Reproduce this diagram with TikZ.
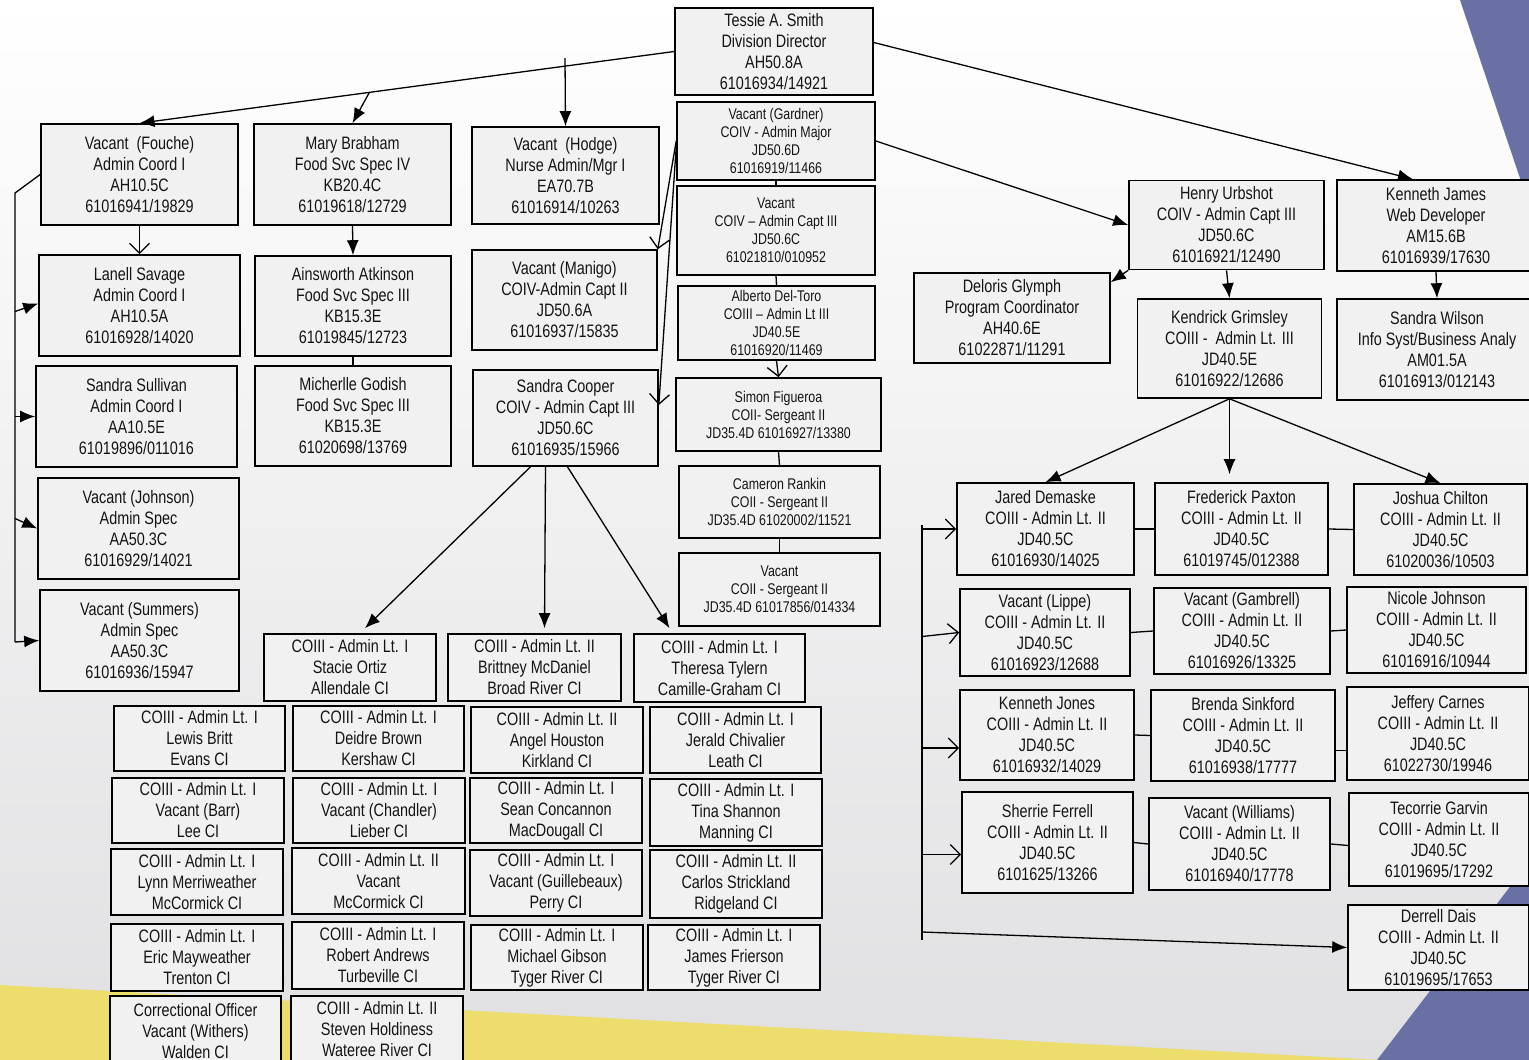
\documentclass[tikz,border=0pt]{standalone}
\usepackage{fontspec}
\setmainfont{Liberation Sans}[FakeStretch=0.8]
\usetikzlibrary{arrows.meta,calc}
\definecolor{boxgray}{RGB}{241,241,241}
\definecolor{bggray}{RGB}{224,224,226}
\definecolor{bandyellow}{RGB}{236,221,108}
\definecolor{bandblue}{RGB}{104,112,164}

\begin{document}
\begin{tikzpicture}[x=1pt,y=-1pt,>={Latex[length=15pt,width=12pt]},
  org/.style 2 args={draw,line width=1.6pt,fill=boxgray,text=black!92,
    minimum width=#1,minimum height=#2,inner sep=0pt,align=center,
    font=\fontsize{18}{21}\selectfont},
  small/.style={font=\fontsize{15.5}{18}\selectfont},
  link/.style={line width=1.3pt},
  openarrow/.style={-{Straight Barb[length=10pt,width=20pt,line width=1.3pt]}}]
\useasboundingbox (0,0) rectangle (1529,1060);
%background
\shade[top color=white,bottom color=bggray] (0,0) rectangle (1529,1060);
\fill[bandyellow] (0,985) -- (1380,1060) -- (0,1060) -- cycle;
\fill[bandblue] (1460,0) -- (1529,0) -- (1529,205) -- cycle;
\fill[bandblue] (1529,862) -- (1377,1060) -- (1529,1060) -- cycle;

%director and major
\node[org={198}{87}] (tessie) at (774,51.5)
  {Tessie A. Smith\\Division Director\\AH50.8A\\61016934/14921};
\node[org={198}{78},small] (gardner) at (776,141)
  {Vacant (Gardner)\\COIV - Admin Major\\JD50.6D\\61016919/11466};
\node[org={198}{89},small] (capt) at (776,230.5)
  {Vacant\\COIV – Admin Capt III\\JD50.6C\\61021810/010952};
\node[org={197}{74},small] (deltoro) at (776.5,323)
  {Alberto Del-Toro\\COIII – Admin Lt III\\JD40.5E\\61016920/11469};
\node[org={205}{73},small] (figueroa) at (778.5,414.5)
  {Simon Figueroa\\COII- Sergeant II\\JD35.4D 61016927/13380};
\node[org={201}{72},small] (rankin) at (779.5,502)
  {Cameron Rankin\\COII - Sergeant II\\JD35.4D 61020002/11521};
\node[org={201}{73},small] (vacsgt) at (779.5,589.5)
  {Vacant\\COII - Sergeant II\\JD35.4D 61017856/014334};

%admin column
\node[org={197}{101}] (fouche) at (139.5,174.5)
  {Vacant\ \ (Fouche)\\Admin Coord I\\AH10.5C\\61016941/19829};
\node[org={201}{101}] (savage) at (139.5,305.5)
  {Lanell Savage\\Admin Coord I\\AH10.5A\\61016928/14020};
\node[org={201}{101}] (sullivan) at (136.5,416.5)
  {Sandra Sullivan\\Admin Coord I\\AA10.5E\\61019896/011016};
\node[org={201}{101}] (johnson) at (138.5,528.5)
  {Vacant (Johnson)\\Admin Spec\\AA50.3C\\61016929/14021};
\node[org={199}{101}] (summers) at (139.5,640.5)
  {Vacant (Summers)\\Admin Spec\\AA50.3C\\61016936/15947};

%food service
\node[org={197}{101}] (brabham) at (352.5,174.5)
  {Mary Brabham\\Food Svc Spec IV\\KB20.4C\\61019618/12729};
\node[org={196}{100}] (atkinson) at (353,306)
  {Ainsworth Atkinson\\Food Svc Spec III\\KB15.3E\\61019845/12723};
\node[org={196}{100}] (godish) at (353,416)
  {Micherlle Godish\\Food Svc Spec III\\KB15.3E\\61020698/13769};

%nurse and captains
\node[org={187}{97}] (hodge) at (565.5,175.5)
  {Vacant\ \ (Hodge)\\Nurse Admin/Mgr I\\EA70.7B\\61016914/10263};
\node[org={185}{100}] (manigo) at (564.5,300)
  {Vacant (Manigo)\\COIV-Admin Capt II\\JD50.6A\\61016937/15835};
\node[org={185}{96}] (cooper) at (565.5,418)
  {Sandra Cooper\\COIV - Admin Capt III\\JD50.6C\\61016935/15966};

%institutions
\node[org={172}{67}] (ortiz) at (350,667.5)
  {COIII - Admin Lt. I\\Stacie Ortiz\\Allendale CI};
\node[org={173}{67}] (mcdaniel) at (534.5,667.5)
  {COIII - Admin Lt. II\\Brittney McDaniel\\Broad River CI};
\node[org={171}{68}] (tylern) at (719.5,668)
  {COIII - Admin Lt. I\\Theresa Tylern\\Camille-Graham CI};
\node[org={171}{65}] (britt) at (199.5,738.5)
  {COIII - Admin Lt. I\\Lewis Britt\\Evans CI};
\node[org={171}{65}] (brown) at (378.5,738.5)
  {COIII - Admin Lt. I\\Deidre Brown\\Kershaw CI};
\node[org={172}{66}] (houston) at (557,740)
  {COIII - Admin Lt. II\\Angel Houston\\Kirkland CI};
\node[org={171}{66}] (chivalier) at (735.5,740)
  {COIII - Admin Lt. I\\Jerald Chivalier\\Leath CI};
\node[org={172}{65}] (barr) at (198,810.5)
  {COIII - Admin Lt. I\\Vacant (Barr)\\Lee CI};
\node[org={172}{65}] (chandler) at (379,810.5)
  {COIII - Admin Lt. I\\Vacant (Chandler)\\Lieber CI};
\node[org={172}{65}] (concannon) at (556,810.5)
  {COIII - Admin Lt. I\\Sean Concannon\\MacDougall CI};
\node[org={172}{67}] (shannon) at (736,812.5)
  {COIII - Admin Lt. I\\Tina Shannon\\Manning CI};
\node[org={172}{66}] (merriweather) at (197,882)
  {COIII - Admin Lt. I\\Lynn Merriweather\\McCormick CI};
\node[org={173}{66}] (mccormick) at (378.5,881)
  {COIII - Admin Lt. II\\Vacant\\McCormick CI};
\node[org={172}{66}] (guillebeaux) at (556,883)
  {COIII - Admin Lt. I\\Vacant (Guillebeaux)\\Perry CI};
\node[org={172}{68}] (strickland) at (736,884)
  {COIII - Admin Lt. II\\Carlos Strickland\\Ridgeland CI};
\node[org={172}{67}] (mayweather) at (197,957.5)
  {COIII - Admin Lt. I\\Eric Mayweather\\Trenton CI};
\node[org={172}{67}] (andrews) at (378,955.5)
  {COIII - Admin Lt. I\\Robert Andrews\\Turbeville CI};
\node[org={172}{65}] (gibson) at (557,957.5)
  {COIII - Admin Lt. I\\Michael Gibson\\Tyger River CI};
\node[org={172}{65}] (frierson) at (734,957.5)
  {COIII - Admin Lt. I\\James Frierson\\Tyger River CI};
\node[org={171}{70}] (withers) at (195.5,1031)
  {Correctional Officer\\Vacant (Withers)\\Walden CI};
\node[org={172}{66}] (holdiness) at (377,1029)
  {COIII - Admin Lt. II\\Steven Holdiness\\Wateree River CI};

%right side
\node[org={195}{89}] (urbshot) at (1226.5,225)
  {Henry Urbshot\\COIV - Admin Capt III\\JD50.6C\\61016921/12490};
\node[org={198}{91}] (kjames) at (1436,225.5)
  {Kenneth James\\Web Developer\\AM15.6B\\61016939/17630};
\node[org={196}{90}] (glymph) at (1012,318)
  {Deloris Glymph\\Program Coordinator\\AH40.6E\\61022871/11291};
\node[org={184}{99}] (grimsley) at (1229.5,348.5)
  {Kendrick Grimsley\\COIII -\ \ Admin Lt. III\\JD40.5E\\61016922/12686};
\node[org={200}{101}] (swilson) at (1437,349.5)
  {Sandra Wilson\\Info Syst/Business Analy\\AM01.5A\\61016913/012143};

%lieutenants
\node[org={177}{92}] (demaske) at (1045.5,529)
  {Jared Demaske\\COIII - Admin Lt. II\\JD40.5C\\61016930/14025};
\node[org={173}{92}] (paxton) at (1241.5,529)
  {Frederick Paxton\\COIII - Admin Lt. II\\JD40.5C\\61019745/012388};
\node[org={173}{91}] (chilton) at (1440.5,529.5)
  {Joshua Chilton\\COIII - Admin Lt. II\\JD40.5C\\61020036/10503};
\node[org={170}{87}] (lippe) at (1045,632.5)
  {Vacant (Lippe)\\COIII - Admin Lt. II\\JD40.5C\\61016923/12688};
\node[org={176}{86}] (gambrell) at (1242,631)
  {Vacant (Gambrell)\\COIII - Admin Lt. II\\JD40.5C\\61016926/13325};
\node[org={179}{86}] (njohnson) at (1436.5,630)
  {Nicole Johnson\\COIII - Admin Lt. II\\JD40.5C\\61016916/10944};
\node[org={174}{90}] (kjones) at (1047,735)
  {Kenneth Jones\\COIII - Admin Lt. II\\JD40.5C\\61016932/14029};
\node[org={184}{91}] (sinkford) at (1243,735.5)
  {Brenda Sinkford\\COIII - Admin Lt. II\\JD40.5C\\61016938/17777};
\node[org={182}{93}] (carnes) at (1438,733.5)
  {Jeffery Carnes\\COIII - Admin Lt. II\\JD40.5C\\61022730/19946};
\node[org={171}{101}] (ferrell) at (1047.5,842.5)
  {Sherrie Ferrell\\COIII - Admin Lt. II\\JD40.5C\\6101625/13266};
\node[org={181}{92}] (williams) at (1239.5,844)
  {Vacant (Williams)\\COIII - Admin Lt. II\\JD40.5C\\61016940/17778};
\node[org={180}{93}] (garvin) at (1439,839.5)
  {Tecorrie Garvin\\COIII - Admin Lt. II\\JD40.5C\\61019695/17292};
\node[org={181}{85}] (dais) at (1438.5,947.5)
  {Derrell Dais\\COIII - Admin Lt. II\\JD40.5C\\61019695/17653};

%director links
\draw[link,->] (tessie.west) -- (fouche.north);
\coordinate (brabhamtop) at ($(tessie.west)!0.57!(fouche.north)$);
\draw[link,->] (brabhamtop) -- (brabham.north);
\coordinate (hodgetop) at (565,58);
\draw[link,->] (hodgetop) -- (hodge.north);
\draw[link,->] ([yshift=9pt]tessie.east) -- ([xshift=-23pt]kjames.north);
%major links
\draw[link,openarrow] (gardner.west) -- (manigo.north east);
\draw[link,openarrow] ([yshift=-6pt]gardner.west) -- ([yshift=13pt]cooper.east);
\draw[link,->] (gardner.east) -- (urbshot.west);
\draw[link] (gardner.south) -- (capt.north);
\draw[link] (capt.south) -- (deltoro.north);
\draw[link,openarrow] (deltoro.south) -- (figueroa.north);
\draw[link] (figueroa.south) -- (rankin.north);
\draw[link] (rankin.south) -- (vacsgt.north);
%admin bracket
\coordinate (lbtop) at (15,193);
\coordinate (lbbot) at (15,642);
\draw[link] (fouche.west) -- (lbtop) -- (lbbot);
\draw[link,->] ([yshift=-6pt]lbtop |- savage.west) -- ([yshift=2pt]savage.west);
\draw[link,->] (lbtop |- sullivan.west) -- (sullivan.west);
\draw[link,->] ([yshift=10pt]lbtop |- johnson.west) -- (johnson.west);
\draw[link,->] (lbbot) -- (summers.west);
\draw[link,openarrow,line width=1.8pt] (fouche.south) -- (savage.north);
%food service links
\draw[link,->] (brabham.south) -- (atkinson.north);
\draw[link] (atkinson.south) -- (godish.north);
%cooper links
\draw[link,->] ([xshift=-35pt]cooper.south) -- ([xshift=15pt,yshift=5pt]ortiz.north);
\draw[link,->] ([xshift=-20pt]cooper.south) -- ([xshift=10pt,yshift=5pt]mcdaniel.north);
\draw[link,->] ([xshift=2pt]cooper.south) -- ([xshift=-50pt,yshift=5pt]tylern.north);
%urbshot links
\draw[link,->] (urbshot.south west) -- ([yshift=-10pt]glymph.north east);
\draw[link,->] (urbshot.south) -- (grimsley.north);
\draw[link,->] (kjames.south) -- (swilson.north);
\draw[link,->] (grimsley.south) -- (demaske.north);
\draw[link,->] (grimsley.south) -- ([yshift=8pt]grimsley.south |- paxton.north);
\draw[link,->] (grimsley.south) -- (chilton.north);
%lieutenant bus
\coordinate (bustop) at (922,525);
\coordinate (busbot) at (922,940);
\draw[link] (bustop) -- (busbot);
\draw[link,openarrow] (busbot |- demaske.west) -- (demaske.west);
\draw[link,openarrow] ([yshift=-4pt]busbot |- lippe.west) -- (lippe.west);
\draw[link,openarrow] ([xshift=-36pt,yshift=-13pt]kjones.west) -- ([yshift=-13pt]kjones.west);
\draw[link,openarrow] ([xshift=-38pt,yshift=-12pt]ferrell.west) -- ([yshift=-12pt]ferrell.west);
\draw[link,->] ([yshift=8pt]busbot) -- (dais.west);
%row links
\draw[link] (demaske.east) -- (paxton.west);
\draw[link] (paxton.east) -- (chilton.west);
\draw[link] (lippe.east) -- (gambrell.west);
\draw[link] (gambrell.east) -- (njohnson.west);
\draw[link] (kjones.east) -- (sinkford.west);
\draw[link] ([yshift=-15pt]sinkford.east) -- ([yshift=-15pt]sinkford.east -| carnes.west);
\draw[link] (ferrell.east) -- (williams.west);
\draw[link] (williams.east) -- ([yshift=-6pt]garvin.west);
\end{tikzpicture}
\end{document}
